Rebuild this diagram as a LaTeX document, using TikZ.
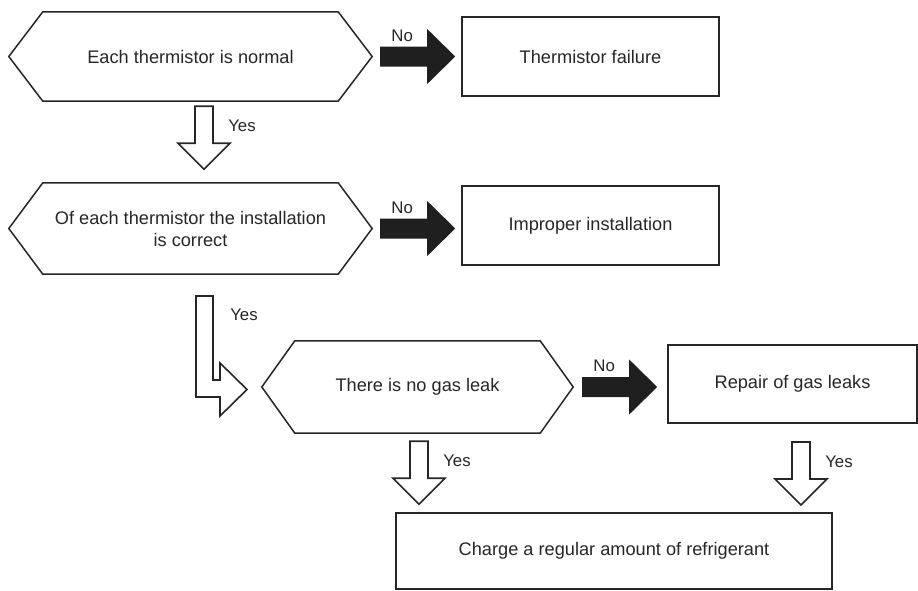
\documentclass[tikz,border=0pt]{standalone}
\usepackage{fontspec}
\setmainfont{Liberation Sans}
\begin{document}
\begin{tikzpicture}[x=1pt,y=-1pt,
  ink/.style={draw=black!85,line width=1.9pt},
  maintext/.style={font=\fontsize{18.2}{22}\selectfont,text=black!85,align=center,inner sep=0pt},
  rectbox/.style={ink,rectangle,maintext},
  hexcore/.style={maintext},
  hexline/.style={draw=black!85,line width=1.5pt,line join=miter},
  lbl/.style={font=\fontsize{16.8}{20}\selectfont,text=black!85,inner sep=0pt},
  arrowline/.style={draw=black!85,fill=white,line width=1.6pt,line join=miter},
  pics/noarrow/.style={code={
    \fill[black!88] (0,-10) -- (47,-10) -- (47,-27.5) -- (75,0) -- (47,27.5) -- (47,10) -- (0,10) -- cycle;
    \node[lbl] (-txt) at (22,-21) {No};
  }},
  pics/yesarrow/.style={code={
    \draw[arrowline] (-9,0) -- (9,0) -- (9,37) -- (26,37) -- (0,63) -- (-26,37) -- (-9,37) -- cycle;
    \node[lbl] (-txt) at (38,20) {Yes};
  }}
]
\useasboundingbox (0,0) rectangle (918,590);

% decision hexagons: a text node framed by a six-sided outline
\node[hexcore,minimum width=363,minimum height=89] (q1) at (190.5,56.5) {Each thermistor is normal};
\draw[hexline] (q1.west) -- ([xshift=34pt]q1.north west) -- ([xshift=-34pt]q1.north east)
  -- (q1.east) -- ([xshift=-34pt]q1.south east) -- ([xshift=34pt]q1.south west) -- cycle;

\node[hexcore,minimum width=363,minimum height=91] (q2) at (190.5,228.5) {Of each thermistor the installation\\is correct};
\draw[hexline] (q2.west) -- ([xshift=34pt]q2.north west) -- ([xshift=-34pt]q2.north east)
  -- (q2.east) -- ([xshift=-34pt]q2.south east) -- ([xshift=34pt]q2.south west) -- cycle;

\node[hexcore,minimum width=311,minimum height=92] (q3) at (417.5,387) {There is no gas leak};
\draw[hexline] (q3.west) -- ([xshift=33pt]q3.north west) -- ([xshift=-33pt]q3.north east)
  -- (q3.east) -- ([xshift=-33pt]q3.south east) -- ([xshift=33pt]q3.south west) -- cycle;

% result boxes
\node[rectbox,minimum width=257,minimum height=79] (r1) at (590.5,56.5) {Thermistor failure};
\node[rectbox,minimum width=257,minimum height=79] (r2) at (590.5,225.5) {Improper installation};
\node[rectbox,minimum width=249,minimum height=78] (r3) at (792.5,384) {Repair of gas leaks};
\node[rectbox,minimum width=436,minimum height=76] (r4) at (614,551) {Charge a regular amount of refrigerant};

% "No" branches
\pic (n1) at ([xshift=8pt]q1.east) {noarrow};
\pic (n2) at ([xshift=8pt]q2.east) {noarrow};
\pic (n3) at ([xshift=9pt]q3.east) {noarrow};

% "Yes" branches
\pic (y1) at ([xshift=13.5pt,yshift=-5pt]q1.south) {yesarrow};
\pic (y3) at ([xshift=1.5pt,yshift=-8pt]q3.south) {yesarrow};
\pic (y4) at ([xshift=8.5pt,yshift=-18pt]r3.south) {yesarrow};

% bent "Yes" arrow from the second decision into the third
\coordinate (bend) at (196,296);
\draw[arrowline] (bend) -- ++(17,0) -- ++(0,84) -- ++(7,0) -- ++(0,-17) -- ++(27,26.5)
  -- ++(-27,26.5) -- ++(0,-19) -- ++(-24,0) -- cycle;
\node[lbl] (y2txt) at (244,315) {Yes};
\end{tikzpicture}
\end{document}
